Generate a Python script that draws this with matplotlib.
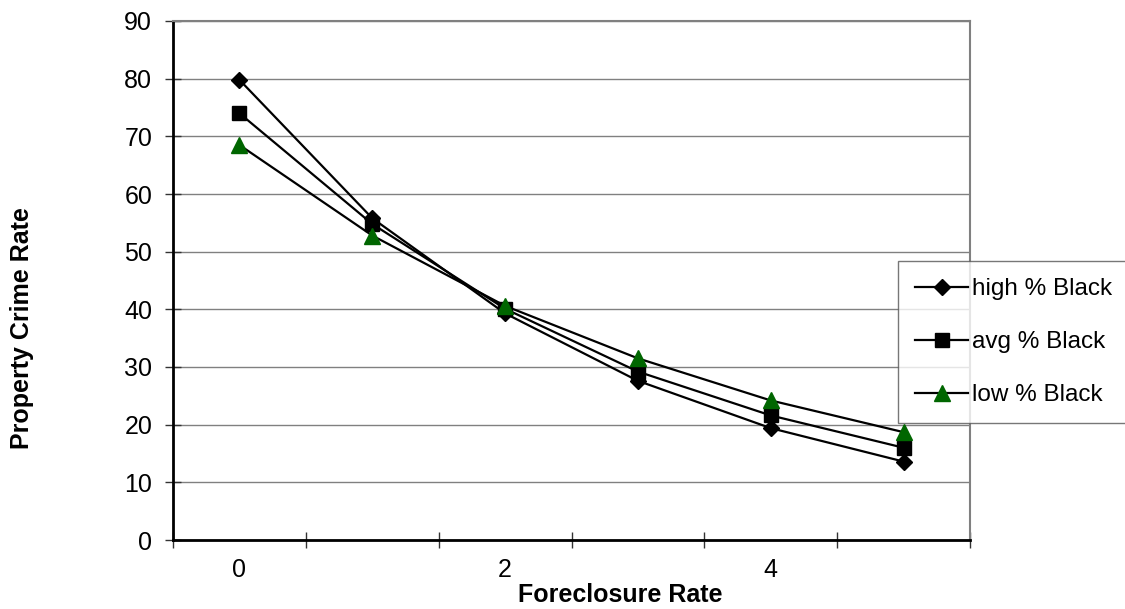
import matplotlib.pyplot as plt
import numpy as np

plt.rcParams['font.family'] = ['Liberation Sans', 'DejaVu Sans']

# categories on the x axis (only every other one is labelled)
foreclosure = [0, 1, 2, 3, 4, 5]
tick_labels = ['0', '', '2', '', '4', '']

high_black = [79.8, 55.8, 39.3, 27.6, 19.4, 13.6]
avg_black = [74.0, 54.8, 40.1, 29.2, 21.6, 16.0]
low_black = [68.5, 52.8, 40.6, 31.5, 24.2, 18.7]

W, H = 1125, 609
fig = plt.figure(figsize=(W / 100, H / 100), dpi=100)
ax = fig.add_axes([173/W, 69/H, 797/W, 519/H])

x = np.array(foreclosure)
ax.plot(x, high_black, color='black', lw=1.6, marker='D', ms=8,
        mfc='black', mec='black', label='high % Black', zorder=3)
ax.plot(x, avg_black, color='black', lw=1.6, marker='s', ms=10,
        mfc='black', mec='black', label='avg % Black', zorder=3)
ax.plot(x, low_black, color='black', lw=1.6, marker='^', ms=11,
        mfc='#006600', mec='#006600', label='low % Black', zorder=3)

ax.set_xlim(-0.5, 5.5)
ax.set_ylim(0, 90)
ax.set_yticks(np.arange(0, 91, 10))
ax.yaxis.grid(True, color='#808080', lw=1)
ax.set_axisbelow(True)

# category labels at centres, tick marks between categories
ax.set_xticks(x)
ax.set_xticklabels(tick_labels)
ax.set_xticks(np.arange(-0.5, 5.6, 1), minor=True)
ax.tick_params(axis='x', which='major', length=0, pad=13, labelsize=18)
ax.tick_params(axis='x', which='minor', direction='inout', length=12,
               width=1, color='#333333')
ax.tick_params(axis='y', direction='inout', length=12, width=1,
               color='#333333', labelsize=18, pad=9)

ax.spines['left'].set_linewidth(2)
ax.spines['bottom'].set_linewidth(2)
ax.spines['top'].set_color('#808080')
ax.spines['right'].set_color('#808080')
ax.spines['top'].set_linewidth(1.5)
ax.spines['right'].set_linewidth(1.5)

fig.text(620/W, 1 - 595/H, 'Foreclosure Rate', fontsize=18,
         fontweight='bold', ha='center', va='center')
fig.text(22/W, 1 - 328/H, 'Property Crime Rate', rotation=90,
         fontsize=18, fontweight='bold', ha='center', va='center')

leg = fig.legend(loc='upper left', bbox_to_anchor=(898/W, 1 - 261/H),
                 fontsize=17.5, frameon=True, fancybox=False,
                 handlelength=2.2, labelspacing=1.28, borderpad=0.7,
                 handletextpad=0.15, borderaxespad=0)
leg.get_frame().set_edgecolor('#555555')
leg.get_frame().set_linewidth(1)

fig.savefig('out.png', dpi=100)
